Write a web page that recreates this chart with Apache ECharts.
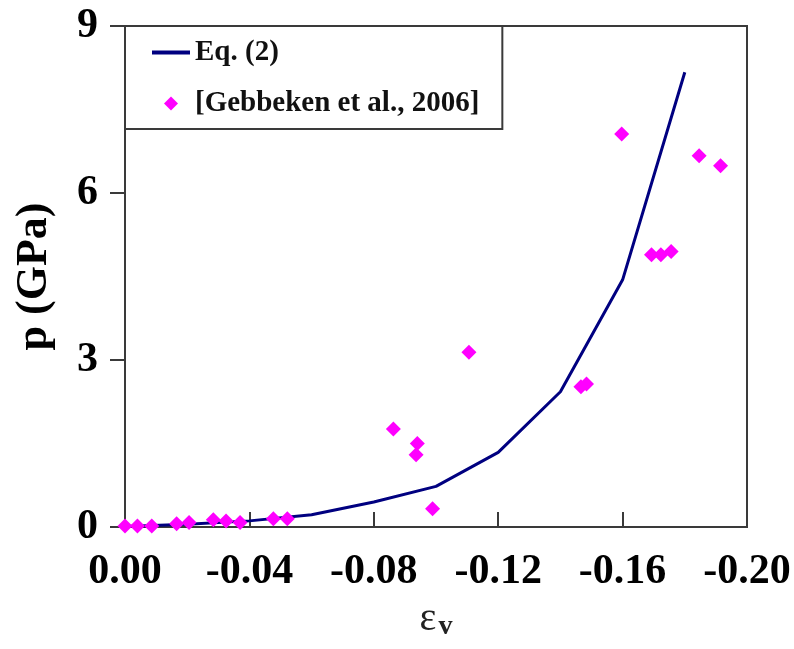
<!DOCTYPE html>
<html>
<head>
<meta charset="utf-8">
<style>
  html, body { margin: 0; padding: 0; background: #fff; }
  #chart { width: 794px; height: 649px; }
</style>
<script src="https://cdn.jsdelivr.net/npm/echarts@6/dist/echarts.min.js"></script>
</head>
<body>
<div id="chart"></div>
<script>
// Eq. (2) curve
const eqStrain = [0, -0.02, -0.04, -0.06, -0.08, -0.10, -0.12, -0.14, -0.16, -0.18];
const eqPressure = [0.01, 0.05, 0.11, 0.22, 0.45, 0.73, 1.34, 2.43, 4.44, 8.17];

// [Gebbeken et al., 2006] measured points
const expStrain = [0, -0.004, -0.0086, -0.0166, -0.0206, -0.0284, -0.0325, -0.037, -0.0477, -0.0522,
  -0.0863, -0.094, -0.0936, -0.0989, -0.1106, -0.1466, -0.1484,
  -0.1597, -0.1693, -0.1723, -0.1756, -0.1846, -0.1915];
const expPressure = [0.02, 0.02, 0.02, 0.06, 0.08, 0.13, 0.11, 0.08, 0.15, 0.15,
  1.76, 1.50, 1.30, 0.33, 3.14, 2.52, 2.57,
  7.06, 4.89, 4.89, 4.95, 6.67, 6.49];

const seriesNames = ['Eq. (2)', '[Gebbeken et al., 2006]'];

const serif = '"Liberation Serif", "Times New Roman", serif';
const axisColor = '#3a3a3a';

const chart = echarts.init(document.getElementById('chart'), null, { renderer: 'canvas' });

const option = {
  backgroundColor: '#fff',
  animation: false,
  grid: {
    left: 125,
    top: 26,
    right: 47,
    bottom: 122,
    // labels hang outside the canvas edge, don't let the grid shrink
    outerBoundsMode: 'none',
    containLabel: false,
    show: true,
    borderColor: axisColor,
    borderWidth: 2,
    backgroundColor: 'transparent'
  },
  legend: {
    left: 125,
    top: 26,
    orient: 'vertical',
    itemWidth: 38,
    itemHeight: 14,
    itemGap: 22,
    padding: [12, 23, 11, 27],
    borderColor: axisColor,
    borderWidth: 2,
    backgroundColor: '#fff',
    textStyle: {
      fontFamily: serif,
      fontWeight: 'bold',
      fontSize: 29,
      lineHeight: 29,
      color: '#111'
    },
    data: [
      { name: seriesNames[0], icon: 'path://M0,0H38V4H0Z' },
      { name: seriesNames[1], icon: 'path://M0,7L7,0L14,7L7,14Z' }
    ]
  },
  xAxis: {
    type: 'value',
    inverse: true,
    min: -0.2,
    max: 0,
    interval: 0.04,
    name: '{e|ε}{v|v}',
    nameLocation: 'middle',
    nameGap: 70,
    nameTextStyle: {
      rich: {
        e: { fontFamily: serif, fontSize: 40, color: '#222' },
        v: { fontFamily: serif, fontSize: 28, fontWeight: 'bold', color: '#222', padding: [16, 0, 0, 2] }
      }
    },
    axisLine: { show: true, lineStyle: { color: axisColor, width: 2 } },
    axisTick: { show: true, inside: true, length: 15, lineStyle: { color: axisColor, width: 2 } },
    splitLine: { show: false },
    axisLabel: {
      margin: 24,
      fontFamily: serif,
      fontWeight: 'bold',
      fontSize: 42,
      color: '#000',
      formatter: function (v) { return v === 0 ? '0.00' : v.toFixed(2); }
    }
  },
  yAxis: {
    type: 'value',
    min: 0,
    max: 9,
    interval: 3,
    name: 'p (GPa)',
    nameLocation: 'middle',
    nameGap: 68,
    nameTextStyle: {
      fontFamily: serif,
      fontWeight: 'bold',
      fontSize: 44,
      color: '#000'
    },
    axisLine: { show: true, lineStyle: { color: axisColor, width: 2 } },
    axisTick: { show: true, inside: false, length: 15, lineStyle: { color: axisColor, width: 2 } },
    splitLine: { show: false },
    axisLabel: {
      margin: 27,
      fontFamily: serif,
      fontWeight: 'bold',
      fontSize: 42,
      color: '#000'
    }
  },
  series: [
    {
      name: seriesNames[0],
      type: 'line',
      showSymbol: false,
      symbol: 'none',
      smooth: false,
      itemStyle: { color: '#000080' },
      lineStyle: { color: '#000080', width: 3 },
      data: eqStrain.map(function (x, i) { return [x, eqPressure[i]]; }),
      z: 2
    },
    {
      name: seriesNames[1],
      type: 'scatter',
      symbol: 'diamond',
      symbolSize: 15,
      itemStyle: { color: '#ff00ff', opacity: 1 },
      data: expStrain.map(function (x, i) { return [x, expPressure[i]]; }),
      z: 3
    }
  ]
};

chart.setOption(option);
</script>
</body>
</html>
